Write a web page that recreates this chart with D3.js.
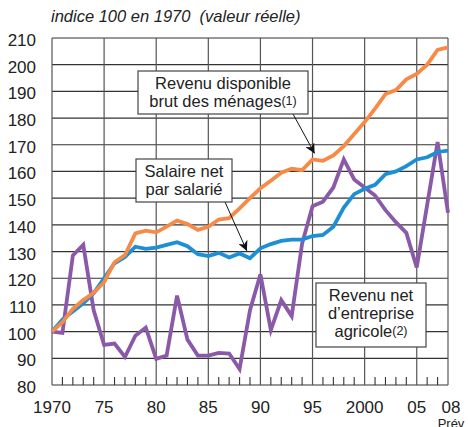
<!DOCTYPE html>
<html>
<head>
<meta charset="utf-8">
<script src="https://cdn.jsdelivr.net/npm/d3@7"></script>
<style>
  body { margin: 0; background: #fff; }
  svg { font-family: "Liberation Sans", Arial, sans-serif; }
</style>
</head>
<body>
<svg id="chart" width="468" height="427"></svg>
<script>
// years 1970 .. 2008
var years = d3.range(1970, 2009);

var revenuDisponible = [100, 103.5, 108.5, 111.8, 114.5, 118.5, 126, 128.7, 136.8, 137.8,
  137.2, 139.3, 141.6, 140.3, 138.1, 139.3, 142, 142.5, 146.2, 150,
  153.7, 156.5, 159.5, 161, 160.5, 164.5, 164, 166, 169.5, 174,
  178.5, 183.5, 189, 190.5, 194.5, 196.5, 200, 205.5, 206.5];

var salaireNet = [100, 104.5, 107.5, 110.6, 114.4, 120, 125.6, 128, 131.8, 131,
  131.5, 132.5, 133.5, 132, 129, 128.3, 129.5, 127.8, 129.3, 127.5,
  131.2, 132.8, 134, 134.5, 134.5, 135.8, 136.2, 139.3, 146.5, 151.5,
  153.5, 155, 159, 160, 162, 164.5, 165.3, 167.3, 167.8];

var revenuAgricole = [100, 99.5, 128.5, 132.5, 108, 95, 95.5, 90.5, 98.5, 101.5,
  89.8, 91, 113.5, 97, 91, 91, 92, 91.8, 86, 108,
  121.5, 100.6, 111.8, 105.8, 133, 147, 148.7, 154, 164.5, 157,
  154, 151, 145.5, 141, 137, 124, 147.5, 171, 144.5];

var yTicks = d3.range(80, 211, 10);
var xTickYears = [1970, 1975, 1980, 1985, 1990, 1995, 2000, 2005, 2008];
var xTickLabels = ["1970", "75", "80", "85", "90", "95", "2000", "05", "08"];

var svg = d3.select("#chart");

var plotLeft = 52, plotRight = 448, plotTop = 38, plotBottom = 385;

var x = d3.scaleLinear().domain([1970, 2008]).range([plotLeft, plotRight]);
var y = d3.scaleLinear().domain([80, 210]).range([plotBottom, plotTop]);

// title
svg.append("text")
  .attr("x", 51).attr("y", 22)
  .style("font-style", "italic")
  .style("font-size", "16.5px")
  .style("white-space", "pre")
  .style("fill", "#222")
  .text("indice 100 en 1970  (valeur réelle)");

// grid
var grid = svg.append("g");
grid.selectAll(".h").data(yTicks).enter().append("line")
  .attr("x1", plotLeft).attr("x2", plotRight)
  .attr("y1", function (d) { return y(d); })
  .attr("y2", function (d) { return y(d); })
  .style("stroke", "#333").style("stroke-width", 1.2);

var vLines = d3.range(1970, 2006, 5).concat([2008]);
grid.selectAll(".v").data(vLines).enter().append("line")
  .attr("x1", function (d) { return x(d); })
  .attr("x2", function (d) { return x(d); })
  .attr("y1", plotTop).attr("y2", plotBottom)
  .style("stroke", "#555").style("stroke-width", 1.2);

// minor year ticks
grid.selectAll(".t").data(years.filter(function (d) { return d % 5 != 0 && d != 2008; }))
  .enter().append("line")
  .attr("x1", function (d) { return x(d); })
  .attr("x2", function (d) { return x(d); })
  .attr("y1", plotBottom - 8).attr("y2", plotBottom)
  .style("stroke", "#333").style("stroke-width", 1.1);

// y labels
svg.append("g").selectAll("text").data(yTicks).enter().append("text")
  .attr("x", 36)
  .attr("y", function (d) { return y(d) + 8; })
  .attr("text-anchor", "end")
  .style("font-size", "17px")
  .style("fill", "#222")
  .text(function (d) { return d; });

// x labels
svg.append("g").selectAll("text").data(xTickYears).enter().append("text")
  .attr("x", function (d, i) { return i == xTickYears.length - 1 ? x(d) + 3 : x(d); })
  .attr("y", 413)
  .attr("text-anchor", "middle")
  .style("font-size", "17px")
  .style("fill", "#222")
  .text(function (d, i) { return xTickLabels[i]; });

svg.append("text")
  .attr("x", x(2008) + 3).attr("y", 428)
  .attr("text-anchor", "middle")
  .style("font-size", "13px")
  .style("fill", "#222")
  .text("Prév");

// series
var line = d3.line()
  .x(function (d, i) { return x(years[i]); })
  .y(function (d) { return y(d); });

var series = [
  { values: revenuAgricole, color: "#8a5aa8" },
  { values: salaireNet, color: "#1d8fd4" },
  { values: revenuDisponible, color: "#f68b47" }
];

svg.append("g").selectAll("path").data(series).enter().append("path")
  .attr("d", function (d) { return line(d.values); })
  .style("fill", "none")
  .style("stroke", function (d) { return d.color; })
  .style("stroke-width", 3.8)
  .style("stroke-linejoin", "miter");

// arrows
svg.append("defs").append("marker")
  .attr("id", "arrow")
  .attr("viewBox", "0 0 10 10")
  .attr("refX", 10).attr("refY", 5)
  .attr("markerWidth", 10).attr("markerHeight", 10)
  .attr("markerUnits", "userSpaceOnUse")
  .attr("orient", "auto")
  .append("path").attr("d", "M0,0 L10,5 L0,10 L3,5 Z").style("fill", "#111");

function arrow(x1, y1, year, value) {
  svg.append("line")
    .attr("x1", x1).attr("y1", y1)
    .attr("x2", x(year)).attr("y2", y(value) - 6)
    .style("stroke", "#111").style("stroke-width", 1)
    .attr("marker-end", "url(#arrow)");
}

arrow(293, 114, 1995.2, 164.5);
arrow(225, 202, 1988.7, 128);

// label boxes
function labelBox(bx, by, bw, bh, lines) {
  var g = svg.append("g");
  g.append("rect")
    .attr("x", bx).attr("y", by).attr("width", bw).attr("height", bh)
    .style("fill", "#fff").style("stroke", "#444").style("stroke-width", 1.2);
  lines.forEach(function (l, i) {
    var t = g.append("text")
      .attr("x", bx + bw / 2).attr("y", by + 17.5 + i * 18.3)
      .attr("text-anchor", "middle")
      .style("font-size", "16.5px")
      .style("fill", "#222")
      .text(l[0]);
    if (l[1]) {
      t.append("tspan").style("font-size", "12.5px").attr("dy", -2).text(l[1]);
    }
  });
}

labelBox(138, 71, 170, 43, [["Revenu disponible"], ["brut des ménages", "(1)"]]);
labelBox(136, 159, 96, 43, [["Salaire net"], ["par salarié"]]);
labelBox(316, 283, 110, 64, [["Revenu net"], ["d\u2019entreprise"], ["agricole", "(2)"]]);
</script>
</body>
</html>
